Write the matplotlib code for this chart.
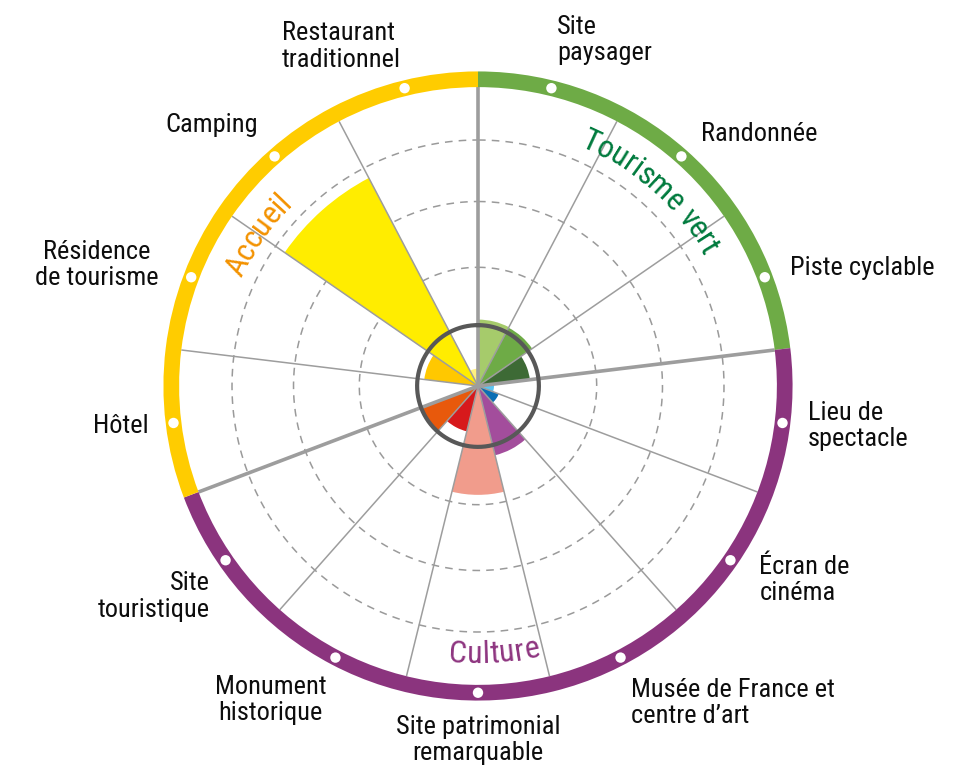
import numpy as np
import matplotlib
matplotlib.use("Agg")
import matplotlib.pyplot as plt
from matplotlib.font_manager import FontProperties

FAMILY = ["Roboto Condensed", "Archivo Narrow", "DejaVu Sans"]
plt.rcParams["font.family"] = FAMILY

# categories clockwise from the top
categories = ["Site\npaysager", "Randonnée", "Piste cyclable", "Lieu de\nspectacle",
              "Écran de\ncinéma", "Musée de France et\ncentre d’art",
              "Site patrimonial\nremarquable", "Monument\nhistorique", "Site\ntouristique",
              "Hôtel", "Résidence\nde tourisme", "Camping", "Restaurant\ntraditionnel"]
values = [1.08, 1.07, 0.85, 0.26, 0.36, 1.16, 1.77, 0.76, 0.97, 0.0, 0.88, 3.82, 0.28]
bar_colors = ["#a6cb6b", "#6eab46", "#3d6a35", "#5bc5f2", "#0a6eb4", "#a34d9c",
              "#f19c8c", "#d7191c", "#e8590c", "#f5a623", "#ffc800", "#ffed00", "#fff07f"]

groups = ["Tourisme vert", "Culture", "Accueil"]
group_sizes = [3, 6, 4]
group_ring_colors = ["#6eab46", "#8b347e", "#ffcc00"]
group_text_colors = ["#007a3d", "#8e3580", "#f39200"]
group_label_angles = [41.5, 176.5, -55.4]   # degrees, clockwise from north

grid_radii = [1.93, 3.0, 4.0]

# layout
PX = 61.5                     # pixels per unit
CX, CY = 478, 386             # centre in pixels
W, H = 954, 776
RMAX = 5.2
RING_IN, RING_W = 4.86, 0.255

fig = plt.figure(figsize=(W / 100, H / 100), dpi=100)
rp = RMAX * PX
ax = fig.add_axes([(CX - rp) / W, (H - CY - rp) / H, 2 * rp / W, 2 * rp / H], projection="polar")
ax.set_theta_zero_location("N")
ax.set_theta_direction(-1)
ax.set_ylim(0, RMAX)
ax.axis("off")

n = len(categories)
step = 2 * np.pi / n
centers = np.arange(n) * step + step / 2

# dashed grid circles
tt = np.linspace(0, 2 * np.pi, 500)
for r in grid_radii:
    ax.plot(tt, np.full_like(tt, r), color="#9a9a9a", lw=1.1, ls=(0, (5, 4)), zorder=1)

# wedges
ax.bar(centers, values, width=step, color=bar_colors, edgecolor="none", zorder=2)

# radial lines
bounds = np.cumsum([0] + group_sizes[:-1])
for i in range(n):
    thick = i in bounds
    ax.plot([i * step, i * step], [0, RING_IN], color="#9d9d9d",
            lw=2.6 if thick else 1.1, zorder=3, solid_capstyle="butt")

# centre circle
ax.plot(tt, np.full_like(tt, 0.99), color="#585858", lw=3.0, zorder=4)

# outer ring per group
starts = bounds * step
gw = np.array(group_sizes) * step
ax.bar(starts + gw / 2, RING_W, width=gw, bottom=RING_IN, color=group_ring_colors,
       edgecolor="none", zorder=3)
ax.scatter(centers, np.full(n, RING_IN + RING_W / 2), s=56, color="white",
           edgecolor="none", zorder=5)

# category labels
lab_layout = [("left", "bottom", 5.37), ("left", "center", 5.48), ("left", "center", 5.43),
              ("left", "center", 5.40), ("left", "center", 5.56), ("left", "top", 5.36),
              ("center", "top", 5.35), ("right", "top", 5.30), ("right", "top", 5.30),
              ("right", "center", 5.40), ("right", "center", 5.55), ("right", "bottom", 5.40),
              ("right", "bottom", 5.26)]
multi = ["left", "left", "left", "left", "left", "left", "center", "center", "right",
         "right", "center", "right", "left"]
for th, lab, (ha, va, r), ma in zip(centers, categories, lab_layout, multi):
    ax.text(th, r, lab, ha=ha, va=va, multialignment=ma, fontsize=19,
            color="#0d0d0d", linespacing=1.13)

# curved group labels
fp = FontProperties(family=FAMILY, size=23)
renderer = fig.canvas.get_renderer()


def arc_text(text, theta_c, r, color, outward=True):
    pos = [renderer.get_text_width_height_descent(text[:i] + "|", fp, ismath=False)[0]
           for i in range(len(text) + 1)]
    mid0 = (pos[0] + pos[-1]) / 2
    for i, ch in enumerate(text):
        if ch == " ":
            continue
        d = ((pos[i] + pos[i + 1]) / 2 - mid0) / (r * PX)
        if outward:
            th = theta_c + d
            rot = -np.degrees(th)
        else:
            th = theta_c - d
            rot = 180 - np.degrees(th)
        ax.text(th, r, ch, rotation=rot, rotation_mode="anchor", ha="center", va="center",
                fontproperties=fp, color=color, zorder=6)


for g, a, col in zip(groups, group_label_angles, group_text_colors):
    c = np.radians(a) % (2 * np.pi)
    arc_text(g, c, 4.37, col, outward=not (np.pi / 2 < c < 3 * np.pi / 2))

fig.savefig("out.png", dpi=100)
